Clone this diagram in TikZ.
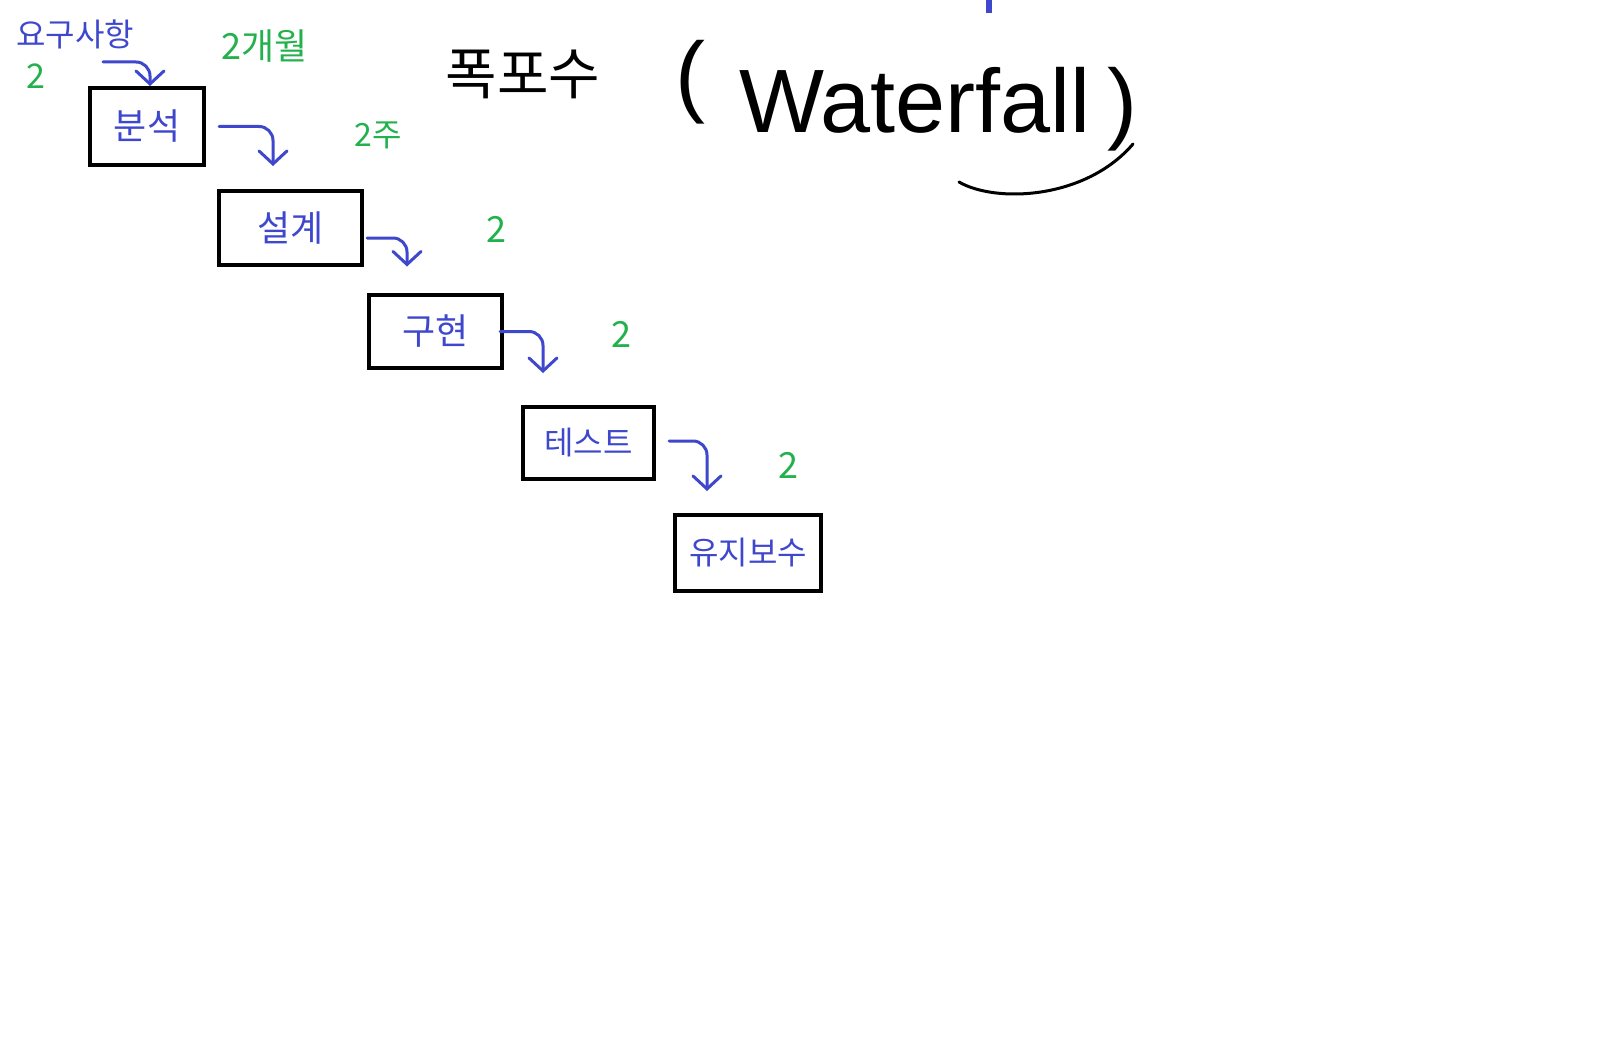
\documentclass[tikz,border=0pt]{standalone}
\usepackage{fontspec}
\setmainfont{Noto Sans CJK KR}
\newfontfamily\latinfont{Liberation Sans}
\usetikzlibrary{arrows.meta}
\definecolor{pblue}{RGB}{63,72,204}
\definecolor{pgreen}{RGB}{34,177,76}
\newcommand{\fs}[1]{\fontsize{#1}{#1}\selectfont}
\begin{document}
\begin{tikzpicture}[x=1pt,y=-1pt,
  stage/.style={draw=black,line width=4pt,inner sep=0pt,text=pblue,font=\fs{36}},
  note/.style={text=pgreen,inner sep=0pt,font=\fs{36}},
  flow/.style={draw=pblue,line width=3pt,rounded corners=14pt,line cap=round,
    -{Straight Barb[length=13pt,width=28pt,line cap=round]}},
  titletext/.style={text=black,inner sep=0pt}]
\useasboundingbox[fill=white] (0,0) rectangle (1608,1043);

% stages
\node[stage,minimum width=114pt,minimum height=77pt] (b1) at (147,126.5) {분석};
\node[stage,minimum width=143pt,minimum height=74pt] (b2) at (290.5,228) {설계};
\node[stage,minimum width=133pt,minimum height=73pt] (b3) at (435.5,331.5) {구현};
\node[stage,minimum width=131pt,minimum height=72pt,font=\fs{32}] (b4) at (588.5,443) {테스트};
\node[stage,minimum width=146pt,minimum height=76pt,font=\fs{32}] (b5) at (748,553) {유지보수};

% requirement
\node[text=pblue,inner sep=0pt,font=\fs{32}] (req) at (75,34) {요구사항};
\coordinate (a0) at (103,62);

% title
\node[titletext,font=\fs{56}] (t1) at (523,74) {폭포수};
\node[titletext,font=\latinfont\fs{90}] (lp) at (690,82) {(};
\node[titletext,font=\latinfont\fs{90}] (wf) at (915,100) {Waterfall};
\node[titletext,font=\latinfont\fs{90}] (rp) at (1122,109) {)};
\draw[black,line width=3pt,line cap=round] (959,182) .. controls (995,203) and (1085,200) .. (1133,144);

% blue tick at top
\draw[pblue,line width=6pt] (989,0) -- (989,13);

% green notes
\node[note,font=\fs{34}] (g0) at (36,76) {2};
\node[note] (g1) at (265,46) {2개월};
\node[note,font=\fs{32}] (g2) at (378,135) {2주};
\node[note] (g3) at (496,229) {2};
\node[note] (g4) at (621,334) {2};
\node[note] (g5) at (788,465) {2};

% flow arrows
\draw[flow] (a0) -| ([xshift=3pt]b1.north);
\draw[flow] ([xshift=13pt]b1.east) -| ([xshift=-17.5pt,yshift=23pt]b2.north);
\draw[flow] ([xshift=3pt,yshift=-10pt]b2.east) -| ([xshift=-28.5pt,yshift=26.5pt]b3.north);
\draw[flow] ([xshift=-4pt]b3.east) -| ([xshift=-45.5pt,yshift=32pt]b4.north);
\draw[flow] ([xshift=13pt,yshift=2pt]b4.east) -| ([xshift=-41pt,yshift=22pt]b5.north);
\end{tikzpicture}
\end{document}
